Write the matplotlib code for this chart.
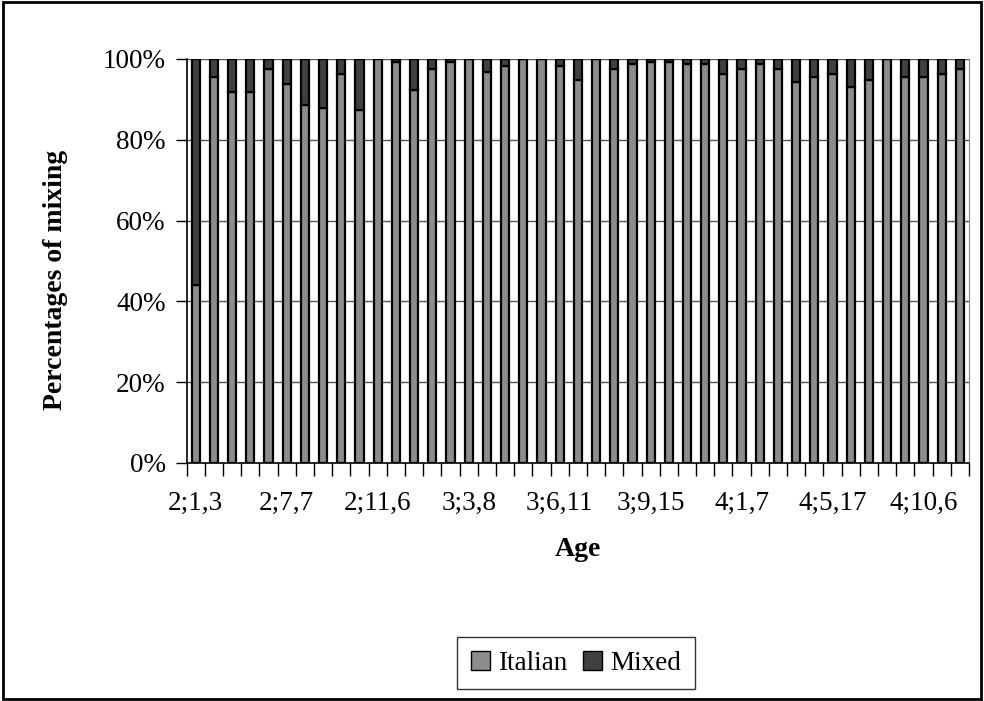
import matplotlib
matplotlib.use("Agg")
import matplotlib.pyplot as plt
from matplotlib.patches import Rectangle, Patch

plt.rcParams['font.family'] = ['Liberation Serif', 'DejaVu Serif']

# percentages per recording session (43 sessions)
italian = [44.0, 95.6, 91.8, 91.8, 97.5, 93.7, 88.7, 87.9, 96.3, 87.3,
           100.0, 99.3, 92.3, 97.5, 99.3, 100.0, 96.9, 98.3, 100.0, 100.0,
           98.3, 94.8, 100.0, 97.5, 98.8, 99.3, 99.3, 98.8, 98.8, 96.3,
           97.5, 98.8, 97.5, 94.3, 95.6, 96.3, 93.0, 94.8, 100.0, 95.5,
           95.5, 96.3, 97.5]
mixed = [56.0, 4.4, 8.2, 8.2, 2.5, 6.3, 11.3, 12.1, 3.7, 12.7,
         0.0, 0.7, 7.7, 2.5, 0.7, 0.0, 3.1, 1.7, 0.0, 0.0,
         1.7, 5.2, 0.0, 2.5, 1.2, 0.7, 0.7, 1.2, 1.2, 3.7,
         2.5, 1.2, 2.5, 5.7, 4.4, 3.7, 7.0, 5.2, 0.0, 4.5,
         4.5, 3.7, 2.5]
age_labels = ["2;1,3", "2;7,7", "2;11,6", "3;3,8", "3;6,11",
              "3;9,15", "4;1,7", "4;5,17", "4;10,6"]
label_step = 5

italian_color = "#8c8c8c"
mixed_color = "#404040"
fs = 19.5

fig = plt.figure(figsize=(9.84, 7.01), dpi=100)
ax = fig.add_axes([186.7 / 984, 1 - 463 / 701, 782.3 / 984, 404 / 701])

x = list(range(len(italian)))
ax.bar(x, italian, width=0.45, color=italian_color, edgecolor="black",
       linewidth=1.6, zorder=3)
ax.bar(x, mixed, width=0.45, bottom=italian, color=mixed_color,
       edgecolor="black", linewidth=1.6, zorder=3)

ax.set_xlim(-0.5, len(italian) - 0.5)
ax.set_ylim(0, 100)

ax.set_yticks([0, 20, 40, 60, 80, 100])
ax.set_yticklabels(["0%", "20%", "40%", "60%", "80%", "100%"], fontsize=fs)
ax.tick_params(axis="y", direction="out", length=8, width=1, pad=7)
for yv in [20, 40, 60, 80, 100]:
    ax.axhline(yv, color="#555555", linewidth=1, zorder=1)

ax.set_xticks(x[::label_step])
ax.set_xticklabels(age_labels, fontsize=fs)
ax.tick_params(axis="x", which="major", length=0, pad=20)
ax.set_xticks([i - 0.5 for i in range(len(italian) + 1)], minor=True)
ax.tick_params(axis="x", which="minor", direction="out", length=9, width=1)

ax.spines["top"].set_visible(False)
ax.spines["right"].set_color("#888888")
ax.spines["left"].set_linewidth(1.2)
ax.spines["bottom"].set_linewidth(1.2)

fig.text(55 / 984, 1 - 280 / 701, "Percentages of mixing", rotation=90,
         fontsize=20, fontweight="bold", ha="center", va="center")
fig.text(578 / 984, 1 - 550 / 701, "Age", fontsize=20, fontweight="bold",
         ha="center", va="center")

handles = [Patch(facecolor=italian_color, edgecolor="black", label="Italian"),
           Patch(facecolor=mixed_color, edgecolor="black", label="Mixed")]
leg = fig.legend(handles=handles, loc="center", ncol=2,
                 bbox_to_anchor=(576 / 984, 1 - 663 / 701), fontsize=fs,
                 frameon=True, fancybox=False, handlelength=0.7,
                 handleheight=0.7, handletextpad=0.3, columnspacing=0.6,
                 borderpad=0.5)
leg.get_frame().set_edgecolor("black")
leg.get_frame().set_linewidth(1)

fig.patches.append(Rectangle((0.003, 0.003), 0.994, 0.994,
                             transform=fig.transFigure, fill=False,
                             edgecolor="black", linewidth=2))

fig.savefig("out.png", dpi=100)
